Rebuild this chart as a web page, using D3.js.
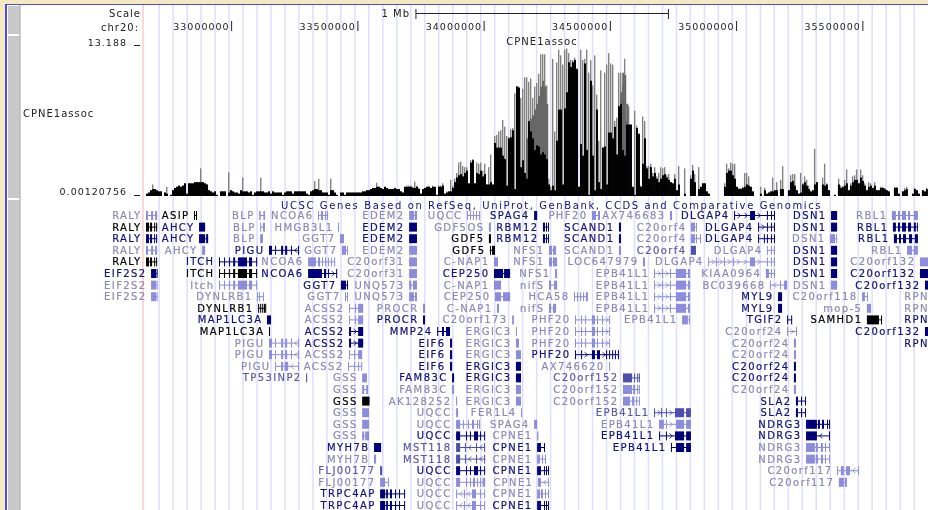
<!DOCTYPE html>
<html>
<head>
<meta charset="utf-8">
<script src="https://cdn.jsdelivr.net/npm/d3@7"></script>
<style>
html, body { margin: 0; background: #f4e9bf; }
svg { display: block; filter: blur(0.45px); }
text { font-family: "DejaVu Sans", sans-serif; font-size: 10px; letter-spacing: 1.4px; }
</style>
</head>
<body>
<div id="image"></div>
<script>
// all genomic values in kb on chr20
const viewKb = [32651, 35760];
const tickKb = [33000, 33500, 34000, 34500, 35000, 35500];
const scaleBarKb = [33732, 34732];
const yTicks = [0.00120756, 13.188];
const trackTitle = "CPNE1assoc";
const genesTitle = "UCSC Genes Based on RefSeq, UniProt, GenBank, CCDS and Comparative Genomics";

// -log10 p, bins of 7.92 kb from assocStart
const assocStart = 32663;
const assocBin = 7.92;
const topWest = [.2,.3,.5,1,.6,.5,.4,.4,0,.3,.8,0,.1,.5,.7,.8,.9,.8,.9,1.1,.2,1.1,1.1,1.1,1.2,1.2,1.2,2.4,1.2,1.1,1,.5,.4,.3,.4,.1,0,.4,.4,.4,0,2.05,.5,.4,.3,.3,.2,.5,1.6,.4,.4,.3,.4,.1,.3,.4,.4,1.6,.4,.3,.3,.4,.2,.4,.3,.3,.3,.3,.1,.3,.4,.4,.4,.2,.4,.4,.4,.4,.4,.4,.2,.1,.4,.5,1.3,.6,1.5,.5,.3,.3,.3,.1,1.5,.5,.3,.1,0,.3,.3,.1,.3,.3,.3,.3,.3,.3,.3,.3,.4,.4,.5,.5,.6,.7,.7,1.15,.8,.7,.6,.8,.7,.6,.6,.6,.7,.6,.6,.4,.3];
const topRise = [.8,.9,.9,.9,.8,1.25,.9,.7,.2,.6,.7,.8,.9,.7,.9,.8,.1,.9,.9,1.1,.2,.4,.4,1.4,.9,1.5,2,2.9,3,2.6,2.5,2.5,1.1,3.1,3.2,1.1,2.9,2.8,2.9,2.2,2.8,1,2.5,3.6,1,5.2,5.3,5.6,5.7,6.6,6,5.2,5.1,5.8,5.9,8.9,9.5,9.5,8.5,9.3,10.3,10.3,9.9,10.2,8.5,9.5,9.8,10.6];
const topPeak = [12.3,12.3,12.3,9.6,1.5,.8,11.9,5.6,11.6,12.7,12.2,11.4,12.7,12.8,12.4,11.8,11.8,12,11.1,.8,12.7,11.8,11.9,12.7,10.7,11.8,9.6,12.2,8.8,4.8,10.9,4.2,10.7,11.4,12.4,11.5,11.4,6.5,6.8,10.7,10.7,9.6,11.9,6.5,7.8,6.2,.8,7.4,6.1,5.4,.9,6.9,6.5,2.6,2.6,2.8,2,2.5,1.7,2];
const topEast = [2.5,2.4,2.5,1.8,1.9,1.2,1.1,1.9,.5,2.6,0,0,2.4,0,0,1.8,2.7,1.9,0,2.5,.8,1.1,1.1,.4,.2,0,0,0,0,0,0,0,1.1,2.8,2.4,2.9,2.8,2.8,.8,.7,.7,.8,2,2,1.7,.8,.4,0,0,0,.8,0,.7,.2,.3,.4,1.6,.5,1.2,0,1.4,2.6,0,0,.5,1.8,1.9,1.9,.5,.2,2,1.1,1.7,1.4,.9,.4,.5,4.1,1.2,0,0,1.6,2.8,1.1,.5,0,0,.1,0,1.5,.9,.8,1.4,2.3,.5,1.1,1.7,1.8,2.3,1.1,2.3,1.8,1.1,.5,1.2,1.1,.7,1.2,.5,.5,.8,.8,.7,.5,.4,0,0,.8,.8,.2,0,.4,.7,.8,0,0,.2,.7,.5,.2,0,.5,.4,.7];
const solidWest = [.2,.3,.5,.6,.6,.5,.4,.4,0,.3,.2,0,.1,.5,.7,.8,.9,.8,.9,1.1,.2,1.1,1.1,1.1,1.2,1.2,1.2,1.2,1.2,1.1,1,.5,.4,.3,.4,.1,0,.4,.4,.4,0,.3,.5,.4,.3,.3,.2,.5,.4,.4,.4,.3,.4,.1,.3,.4,.4,.4,.4,.3,.3,.4,.2,.4,.3,.3,.3,.3,.1,.3,.4,.4,.4,.2,.4,.4,.4,.4,.4,.4,.2,.1,.4,.5,.6,.6,.5,.5,.3,.3,.3,.1,.5,.5,.3,.1,0,.3,.3,.1,.3,.3,.3,.3,.3,.3,.3,.3,.4,.4,.5,.5,.6,.7,.7,.8,.8,.7,.6,.8,.7,.6,.6,.6,.7,.6,.6,.4,.3];
const solidRise = [.8,.8,.8,.8,.7,.7,.8,.6,.2,.6,.7,.8,.8,.7,.8,.8,.1,.8,.8,.9,.2,.3,.4,.4,.7,1.2,1.6,1.8,1.9,1.7,2,2.2,1.1,2.9,3.1,1.1,2,1.9,2.2,1.7,1.9,1,1,1.2,1,4.6,4.2,4.2,4.2,3.5,3.2,.9,5,5.1,5.7,.6,9.5,9.4,2.5,3.1,2,1.5,6.5,5.6,5,4,4.4,4.3];
const solidPeak = [3.6,3.8,3.6,3.2,1,.5,.9,.5,4.8,7.5,7.5,1,7.6,9,11.6,11.2,11.6,11.8,11,.8,4.5,3.5,11.5,4,.1,10,3.5,.5,7.5,1.2,.6,4.2,4.3,1,5.5,5.5,5,6,3.6,7.8,8,4,3.5,6.2,6.2,6.2,.8,.1,5.9,5.4,.8,2.8,5,2.4,1.5,2.5,1.7,2,1.5,1.2];
const solidEast = [1.5,1.8,1.9,1.6,1.4,1.2,1.1,1.5,.5,1,0,0,.2,0,0,1.5,2.2,1.2,0,.6,.8,1.1,1.1,.4,.2,0,0,0,0,0,0,0,.8,2,2.2,2.2,1.8,1.5,.8,.6,.6,.7,.8,1,.9,.8,.4,0,0,0,.2,0,.5,.2,.3,.4,.4,.5,.5,0,.6,.6,0,0,.5,1.2,1.3,.9,.5,.2,.3,1,1.2,.9,.6,.4,.5,1,1.2,0,0,1,.9,1,.5,0,0,.1,0,1,.7,.8,.9,1.1,.5,.9,1.2,1.4,1.4,1.1,1.6,1.3,.9,.5,.8,.9,.7,.9,.5,.5,.7,.7,.6,.5,.4,0,0,.7,.7,.2,0,.4,.5,.6,0,0,.2,.6,.5,.2,0,.5,.4,.6];
const assocTop = [].concat(topWest, topRise, topPeak, topEast);
const assocSolid = [].concat(solidWest, solidRise, solidPeak, solidEast);
// darker overlap bands inside the peak, [kb, value]
const midLeft = [[34168,5],[34176,6.5],[34184,6.7],[34192,7],[34200,7.5],[34208,8],[34216,8.7],[34224,9.5],[34232,10],[34240,9.5],[34248,8]];
const midRight = [[34533,7],[34541,9],[34549,10.7],[34557,10.5],[34565,8]];

// shared transcript models, exons in kb
const ralyA = [[32663,32671],[32683,32691],[32699,32707]];
const ralyB = [[32663,32675],[32679,32687],[32695,32699],[32703,32707]];
const eif2s2 = [[32683,32703],[32705,32707]];
const itch = [[32952,32956],[32972,32976],[32992,32996],[33008,33016],[33027,33063],[33071,33083],[33099,33103]];
const pigu = [[33150,33162],[33174,33178],[33198,33206],[33214,33222],[33237,33241],[33265,33269]];
const acssA = [[33467,33471],[33491,33495],[33503,33523]];
const acssB = [[33467,33475],[33503,33523]];
const edem2 = [[33705,33736]];
const uqccC = [[33891,33907],[33930,33934],[33946,33950],[33962,33978],[33986,33990],[34002,34006]];
const uqccE = [[33891,33895],[33922,33926],[33954,33970],[33986,33990],[34002,34006]];
const mst118 = [[33891,33907],[33926,33930],[33970,33974],[34002,34006]];
const rbm12 = [[34235,34243],[34247,34251],[34255,34259]];
const phfA = [[34362,34366],[34386,34390],[34402,34406],[34429,34441],[34449,34453],[34469,34473],[34497,34501]];
const epbA = [[34675,34679],[34707,34710],[34738,34742],[34762,34802],[34809,34817]];
const cpneA = [[34212,34227],[34239,34243],[34247,34251],[34255,34259]];
const dsn1 = [[35376,35400]];
const ergic3 = [[34128,34148]];
const gdf5 = [[34021,34029]];
const trpc = [[33590,33610],[33614,33621],[33629,33637],[33649,33653],[33665,33669],[33685,33689]];
const dlgTail = [[35122,35126],[35138,35142],[35150,35154]];
const ndrgC = [[35277,35312],[35316,35324],[35336,35344],[35352,35356],[35368,35372]];
const myl9 = [[35166,35182]];
const sla2 = [[35237,35245],[35257,35261],[35273,35277]];
const rpn = [[35781,35790]];
const c132 = [[35728,35760]];
const c132far = [[35748,35770]];
const c24 = [[35229,35237]];

// one list per track row: name, shade (k black, n navy, m mid, l light), exons
const row0 = [["RALY","l",ralyA],["ASIP","k",[[32853,32857],[32861,32865]]],["BLP","l",[[33111,33117],[33128,33134]]],["NCOA6","l",[[33344,33348],[33356,33364],[33372,33376],[33380,33384]]],["EDEM2","l",[[33705,33724],[33727,33736]]],["UQCC","l",[[33934,33938],[33946,33950],[33958,33962],[33970,33974],[33982,33986]]],["SPAG4","n",[[34200,34212]]],["PHF20","l",[[34429,34445],[34453,34461]]],["AX746683","l",[[34738,34746]]],["DLGAP4","n",[[34992,34996],[35055,35075],...dlgTail]],["DSN1","n",dsn1],["RBL1","l",[[35617,35633],[35641,35649],[35657,35673],[35681,35689],[35704,35720]]]];
const row1 = [["RALY","k",ralyB],["AHCY","n",[[32873,32897]]],["BLP","l",[[33115,33119],[33126,33134]]],["HMGB3L1","l",[[33423,33427]]],["EDEM2","n",edem2],["GDF5OS","l",gdf5],["RBM12","n",rbm12],["SCAND1","n",[[34536,34544]]],["C20orf4","l",[[34821,34837],[34841,34845]]],["DLGAP4","n",[[35087,35091],...dlgTail]],["DSN1","n",dsn1],["RBL1","n",[[35621,35633],[35641,35649],[35657,35673],[35681,35693],[35704,35712],[35716,35720]]]];
const row2 = [["RALY","n",ralyB],["AHCY","n",[[32873,32897],[32901,32909]]],["BLP","l",[[33115,33126]]],["GGT7","l",[[33431,33447]]],["EDEM2","n",edem2],["GDF5","k",gdf5],["RBM12","n",rbm12],["SCAND1","n",[[34536,34544]]],["C20orf4","l",[[34821,34837],[34841,34845],[34857,34861]]],["DLGAP4","n",[[35087,35091],[35110,35114],...dlgTail]],["DSN1","l",[[35372,35392],[35396,35400]]],["RBL1","n",[[35625,35637],[35645,35653],[35661,35673],[35685,35697],[35708,35720]]]];
const row3 = [["RALY","l",ralyA],["AHCY","l",[[32885,32897]]],["PIGU","n",pigu],["GGT7","l",[[33439,33455],[33459,33463]]],["EDEM2","l",edem2],["GDF5","k",[[34025,34029],[34033,34045]]],["NFS1","l",[[34259,34271],[34275,34287]]],["SCAND1","l",[[34536,34544]]],["C20orf4","m",[[34821,34841]]],["DLGAP4","l",dlgTail],["DSN1","n",dsn1],["RBL1","l",[[35677,35697],[35704,35720]]]];
const row4 = [["RALY","k",ralyB],["ITCH","n",itch],["NCOA6","l",[[33305,33336],[33344,33352],[33360,33364],[33372,33376],[33384,33388],[33396,33400],[33408,33412]]],["C20orf31","l",edem2],["C-NAP1","l",[[34041,34057]]],["NFS1","l",[[34259,34271],[34275,34291]]],["LOC647979","l",[[34631,34639]]],["DLGAP4","l",[[34889,34893],[34920,34924],[34952,34956],[34988,34992],[35055,35075],...dlgTail]],["DSN1","n",dsn1],["C20orf132","l",c132]];
const row5 = [["EIF2S2","n",eif2s2],["ITCH","k",itch],["NCOA6","n",[[33305,33360],[33368,33376],[33384,33388],[33416,33420]]],["C20orf31","l",edem2],["CEP250","n",[[34041,34077],[34081,34105]]],["NFS1","l",[[34283,34291]]],["EPB41L1","l",epbA],["KIAA0964","l",[[35118,35130],[35138,35142],[35150,35154]]],["DSN1","n",dsn1],["C20orf132","n",c132]];
const row6 = [["EIF2S2","l",eif2s2],["Itch","l",itch],["GGT7","n",[[33435,33455],[33459,33463]]],["UNQ573","l",[[33705,33713],[33720,33736]]],["C-NAP1","l",[[34041,34069]]],["nifS","l",[[34259,34267],[34279,34291]]],["EPB41L1","l",epbA],["BC039668","l",[[35134,35138],[35174,35178],[35190,35202]]],["DSN1","l",dsn1],["C20orf132","n",c132far]];
const row7 = [["EIF2S2","l",eif2s2],["DYNLRB1","l",[[33103,33107],[33111,33115],[33126,33130]]],["GGT7","l",[[33451,33455],[33459,33463]]],["UNQ573","l",[[33705,33724],[33728,33736]]],["CEP250","l",[[34045,34069],[34077,34105]]],["HCA58","l",[[34358,34362],[34370,34374],[34382,34386],[34394,34398],[34405,34413]]],["EPB41L1","l",epbA],["MYL9","n",myl9],["C20orf118","l",[[35499,35510],[35518,35522]]],["RPN","l",rpn]];
const row8 = [["DYNLRB1","k",[[33107,33111],[33115,33119],[33123,33127],[33130,33134],[33135,33138]]],["ACSS2","l",acssA],["PROCR","l",[[33760,33768]]],["C-NAP1","l",[[34053,34061]]],["nifS","l",[[34259,34267],[34275,34287]]],["EPB41L1","l",epbA],["MYL9","n",myl9],["mop-5","l",[[35518,35534]]],["RPN","l",rpn]];
const row9 = [["MAP1LC3A","n",[[33142,33158]]],["ACSS2","l",acssA],["PROCR","n",[[33760,33768]]],["C20orf173","l",[[34113,34120]]],["PHF20","l",phfA],["EPB41L1","l",[[34786,34809],[34813,34817]]],["TGIF2","n",[[35202,35206],[35218,35222]]],["SAMHD1","k",[[35518,35566],[35574,35578]]],["RPN","n",rpn]];
const row10 = [["MAP1LC3A","k",[[33150,33154]]],["ACSS2","n",acssB],["MMP24","n",[[33816,33819],[33835,33843],[33851,33867]]],["ERGIC3","l",[[34128,34132]]],["PHF20","l",phfA],["C20orf24","l",[[35202,35206],[35237,35241]]],["C20orf132","n",c132far]];
const row11 = [["PIGU","l",pigu],["ACSS2","n",acssB],["EIF6","n",[[33867,33875]]],["ERGIC3","l",[[34128,34140]]],["PHF20","l",phfA],["C20orf24","l",c24],["RPN","n",rpn]];
const row12 = [["PIGU","l",pigu],["ACSS2","l",[[33467,33471],[33487,33491],[33503,33519]]],["EIF6","n",[[33867,33875]]],["ERGIC3","l",ergic3],["PHF20","n",[[34362,34366],[34386,34390],[34429,34441],[34449,34461],[34485,34489],[34497,34501],[34509,34513],[34520,34524],[34532,34536]]],["C20orf24","l",c24]];
const row13 = [["PIGU","l",[[33174,33178],[33198,33206],[33212,33226],[33265,33269]]],["ACSS2","l",[[33463,33467],[33487,33491],[33503,33507],[33515,33519]]],["EIF6","n",[[33867,33875]]],["ERGIC3","n",ergic3],["AX746620","l",[[34497,34501]]],["C20orf24","n",c24]];
const row14 = [["TP53INP2","m",[[33297,33301]]],["GSS","l",[[33519,33538]]],["FAM83C","n",[[33875,33883]]],["ERGIC3","n",ergic3],["C20orf152","m",[[34552,34588],[34596,34600],[34608,34611],[34615,34619]]],["C20orf24","n",c24]];
const row15 = [["GSS","l",[[33519,33527],[33535,33542]]],["FAM83C","l",[[33875,33883]]],["ERGIC3","l",ergic3],["C20orf152","l",[[34552,34588],[34592,34600],[34608,34611],[34615,34619]]],["C20orf24","l",c24]];
const row16 = [["GSS","k",[[33519,33548]]],["AK128252","l",[[33891,33895]]],["ERGIC3","l",ergic3],["C20orf152","l",[[34552,34580],[34588,34596],[34604,34608],[34615,34619]]],["SLA2","n",sla2]];
const row17 = [["GSS","l",[[33519,33546]]],["UQCC","l",[[33891,33899]]],["FER1L4","l",[[34148,34152]]],["EPB41L1","m",[[34675,34679],[34703,34707],[34722,34726],[34758,34794],[34802,34821]]],["SLA2","n",sla2]];
const row18 = [["GSS","l",[[33519,33546]]],["UQCC","l",[[33891,33907],[33918,33922],[33938,33942],[33954,33962],[33974,33978],[33982,33986]]],["SPAG4","l",[[34200,34212]]],["EPB41L1","l",[[34695,34714],[34722,34726],[34762,34794],[34802,34821]]],["NDRG3","n",[[35277,35320],[35324,35332],[35340,35348],[35360,35364],[35368,35372]]]];
const row19 = [["GSS","l",[[33519,33527],[33531,33546]]],["UQCC","n",uqccC],["CPNE1","l",[[34212,34217]]],["EPB41L1","n",[[34695,34699],[34722,34726],[34758,34794],[34802,34821]]],["NDRG3","n",[[35277,35320],[35368,35372]]]];
const row20 = [["MYH7B","n",[[33566,33594]]],["MST118","m",mst118],["CPNE1","n",[[34212,34227],[34239,34243]]],["EPB41L1","n",[[34742,34746],[34762,34794],[34802,34821]]],["NDRG3","l",ndrgC]];
const row21 = [["MYH7B","l",[[33566,33574]]],["MST118","m",mst118],["CPNE1","l",[[34212,34223],[34231,34235],[34243,34247]]],["NDRG3","l",ndrgC]];
const row22 = [["FLJ00177","m",[[33590,33598]]],["UQCC","n",uqccC],["CPNE1","n",cpneA],["C20orf117","l",[[35400,35403],[35415,35427],[35435,35451],[35483,35487]]]];
const row23 = [["FLJ00177","l",[[33590,33610],[33621,33625]]],["UQCC","l",[[33891,33907],[33930,33934],[33946,33950],[33958,33966],[33974,33978],[33986,33990],[33996,34006]]],["CPNE1","l",[[34215,34227],[34255,34259]]],["C20orf117","l",[[35407,35427],[35431,35439]]]];
const row24 = [["TRPC4AP","n",trpc],["UQCC","l",uqccE],["CPNE1","l",[[34212,34223],[34227,34235],[34243,34247],[34255,34259]]]];
const row25 = [["TRPC4AP","n",trpc],["UQCC","l",uqccE],["CPNE1","n",cpneA]];
const geneRows = [row0,row1,row2,row3,row4,row5,row6,row7,row8,row9,row10,row11,row12,row13,row14,row15,row16,row17,row18,row19,row20,row21,row22,row23,row24,row25];

// genes whose introns point left
const reverseGenes = ["RALY","PIGU","MST118","RBL1","NDRG3","C20orf117","CPNE1","UQCC","BC039668","C20orf152","SLA2","KIAA0964"];

const w = 928, h = 510;
const textColor = {k: "#000", n: "#10107c", m: "#5a5aa6", l: "#8a8ab6"};
const blockColor = {k: "#000", n: "#00007a", m: "#4e4eae", l: "#8c8cdc"};

const x = d3.scaleLinear().domain(viewKb).range([143, 928]);
const y = d3.scaleLinear().domain([0, 13.188]).range([196, 44]);
const rowY = d3.scaleLinear().domain([0, 25]).range([215.5, 505.5]);

const svg = d3.select("#image").append("svg").attr("width", w).attr("height", h);

// page frame
svg.append("rect").attr("x", 5).attr("y", 4).attr("width", w).attr("height", h).attr("fill", "#4a4af0");
svg.append("rect").attr("x", 7).attr("y", 5).attr("width", w).attr("height", h).attr("fill", "#fff");
svg.selectAll("rect.side")
    .data([[6, 34], [36, 198], [200, 510]])
    .enter().append("rect")
    .attr("class", "side")
    .attr("x", 8).attr("y", d => d[0])
    .attr("width", 11.5).attr("height", d => d[1] - d[0])
    .attr("fill", "#c8c8c8");
svg.append("line").attr("x1", 20).attr("x2", 20).attr("y1", 5).attr("y2", h).attr("stroke", "#999");

// guide lines
svg.append("g").selectAll("line")
    .data(d3.range(32715, viewKb[1], 55.37))
    .enter().append("line")
    .attr("x1", d => x(d)).attr("x2", d => x(d))
    .attr("y1", 5).attr("y2", h)
    .attr("stroke", "#dedeff").attr("stroke-width", 1.5);
svg.append("line").attr("x1", x(viewKb[0])).attr("x2", x(viewKb[0]))
    .attr("y1", 5).attr("y2", h)
    .attr("stroke", "#ffc8cc").attr("stroke-width", 1.5);

// ruler
svg.append("text").attr("x", 141).attr("y", 17).attr("text-anchor", "end").attr("fill", "#222").style("letter-spacing", "1px").text("Scale");
svg.append("text").attr("x", 139).attr("y", 30.5).attr("text-anchor", "end").attr("fill", "#222").style("letter-spacing", "1px").text("chr20:");
svg.append("text").attr("x", 410).attr("y", 16.5).attr("text-anchor", "end").attr("fill", "#222").style("letter-spacing", "1px").text("1 Mb");
const bar = svg.append("g").attr("stroke", "#222");
bar.append("line").attr("x1", x(scaleBarKb[0])).attr("x2", x(scaleBarKb[1])).attr("y1", 13.5).attr("y2", 13.5);
bar.selectAll("line.end")
    .data(scaleBarKb)
    .enter().append("line")
    .attr("class", "end")
    .attr("x1", d => x(d)).attr("x2", d => x(d))
    .attr("y1", 9).attr("y2", 19);

const ruler = svg.append("g").attr("transform", "translate(0,21)")
    .call(d3.axisBottom(x).tickValues(tickKb).tickSize(10).tickFormat(d => d + "000"));
ruler.select(".domain").remove();
ruler.selectAll("line").attr("stroke", "#222");
ruler.selectAll("text")
    .attr("x", -2).attr("y", 9).attr("dy", 0)
    .attr("text-anchor", "end").attr("fill", "#222")
    .style("font-size", "9.5px").style("letter-spacing", "1px");

// association track
const assoc = svg.append("g");
assoc.selectAll("rect.top")
    .data(assocTop)
    .enter().append("rect")
    .attr("class", "top")
    .attr("x", (d, i) => x(assocStart + i * assocBin))
    .attr("y", d => y(d))
    .attr("width", 1.4)
    .attr("height", d => y(0) - y(d))
    .attr("fill", "#828282");
assoc.selectAll("rect.mid")
    .data(midLeft.concat(midRight))
    .enter().append("rect")
    .attr("class", "mid")
    .attr("x", d => x(d[0]))
    .attr("y", d => y(d[1]))
    .attr("width", 2)
    .attr("height", d => y(0) - y(d[1]))
    .attr("fill", "#666");
assoc.selectAll("rect.solid")
    .data(assocSolid)
    .enter().append("rect")
    .attr("class", "solid")
    .attr("x", (d, i) => x(assocStart + i * assocBin))
    .attr("y", d => y(d))
    .attr("width", 2)
    .attr("height", d => y(0) - y(d))
    .attr("fill", "#000");

const yAxis = svg.append("g").attr("transform", "translate(140,0)")
    .call(d3.axisLeft(y).tickValues(yTicks).tickSize(6).tickPadding(7).tickFormat(d => d));
yAxis.select(".domain").remove();
yAxis.selectAll("line").attr("stroke", "#222").attr("transform", d => "translate(0," + (d > 1 ? 1 : -1) + ")");
yAxis.selectAll("text").attr("y", d => d > 1 ? 1 : -1.5).attr("dy", 0).attr("fill", "#222")
    .style("font-size", "9.5px").style("letter-spacing", "1px");

svg.append("text").attr("x", 23).attr("y", 117).attr("fill", "#222").style("letter-spacing", "1px").text(trackTitle);
svg.append("text").attr("x", 542).attr("y", 45).attr("text-anchor", "middle").attr("fill", "#222").style("letter-spacing", "1px").text(trackTitle);
svg.append("text").attr("x", 281).attr("y", 208.5).attr("fill", "#10107c").style("letter-spacing", "1.6px").text(genesTitle);

// gene rows
geneRows.forEach((genes, r) => {
    const rowG = svg.append("g").attr("transform", "translate(0," + rowY(r) + ")");
    const gene = rowG.selectAll("g")
        .data(genes)
        .enter().append("g");

    gene.append("text")
        .attr("x", d => x(d[2][0][0]) - 4.5)
        .attr("y", 3.5)
        .attr("text-anchor", "end")
        .attr("fill", d => textColor[d[1]])
        .attr("stroke", d => textColor[d[1]])
        .attr("stroke-width", 0.2)
        .text(d => d[0]);

    gene.append("line")
        .attr("x1", d => x(d[2][0][0]))
        .attr("x2", d => x(d[2][d[2].length - 1][1]))
        .attr("stroke", d => blockColor[d[1]]);

    gene.selectAll("rect")
        .data(d => d[2].map(e => ({e: e, shade: d[1]})))
        .enter().append("rect")
        .attr("x", d => x(d.e[0]))
        .attr("y", -4.5)
        .attr("width", d => Math.max(1, x(d.e[1]) - x(d.e[0])))
        .attr("height", 9)
        .attr("fill", d => blockColor[d.shade]);

    // intron arrows
    gene.each(function (d) {
        const dir = reverseGenes.includes(d[0]) ? -1 : 1;
        const marks = [];
        d3.pairs(d[2]).forEach(p => {
            const a = x(p[0][1]), b = x(p[1][0]);
            for (let m = a + 4; m < b - 2; m += 7) marks.push(m);
        });
        d3.select(this).selectAll("path")
            .data(marks)
            .enter().append("path")
            .attr("d", m => "M" + (m - dir * 1.5) + ",-2.5L" + (m + dir * 1.5) + ",0L" + (m - dir * 1.5) + ",2.5")
            .attr("fill", "none")
            .attr("stroke", blockColor[d[1]])
            .attr("stroke-width", 0.8);
    });
});
</script>
</body>
</html>
